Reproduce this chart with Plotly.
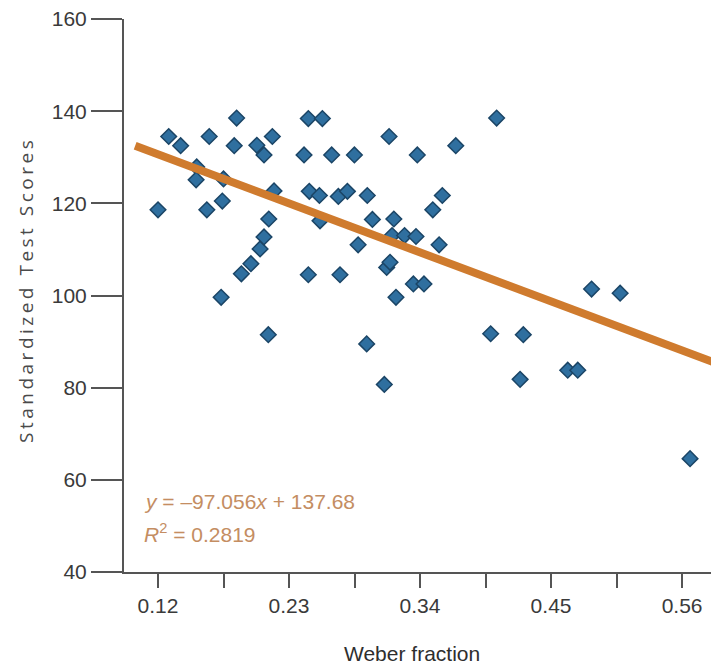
import plotly.graph_objects as go

# Data
weber = [0.120, 0.129, 0.139, 0.1525, 0.152, 0.161, 0.163, 0.174, 0.175, 0.173,
         0.184, 0.186, 0.190, 0.198, 0.203, 0.2057, 0.209, 0.209, 0.2126, 0.213,
         0.216, 0.2174, 0.2426, 0.2462, 0.247, 0.2462, 0.2555, 0.256, 0.258, 0.2658,
         0.2714, 0.2728, 0.279, 0.2849, 0.288, 0.2952, 0.2957, 0.300, 0.310, 0.312,
         0.3148, 0.314, 0.318, 0.3165, 0.3198, 0.327, 0.3344, 0.3366, 0.3377, 0.3433,
         0.3507, 0.356, 0.3587, 0.370, 0.3993, 0.4043, 0.424, 0.4267, 0.464, 0.4724,
         0.484, 0.508, 0.5667]
scores = [118.6, 134.5, 132.5, 127.9, 125.1, 118.6, 134.5, 120.5, 125.3, 99.6,
          132.5, 138.5, 104.7, 106.9, 132.6, 110.1, 130.5, 112.7, 91.5, 116.6,
          134.5, 122.7, 130.5, 138.4, 122.6, 104.5, 121.7, 116.2, 138.4, 130.5,
          121.5, 104.5, 122.6, 130.5, 111.0, 89.5, 121.7, 116.5, 80.7, 106.1,
          107.2, 134.5, 116.6, 113.0, 99.6, 113.0, 102.5, 112.8, 130.5, 102.5,
          118.6, 111.0, 121.7, 132.5, 91.7, 138.5, 81.8, 91.5, 83.8, 83.8,
          101.4, 100.5, 64.6]

trend_x = [0.1008, 0.600]
trend_y = [132.5, 84.2]

x_tickvals = [0.12, 0.23, 0.34, 0.45, 0.56]
x_ticktext = ["0.12", "0.23", "0.34", "0.45", "0.56"]
x_minor_tickvals = [0.175, 0.285, 0.395, 0.505]
y_tickvals = [40, 60, 80, 100, 120, 140, 160]

eq_line1 = "<i>y</i> = \u201397.056<i>x</i> + 137.68"
eq_line2 = "<i>R</i><sup>2</sup> = 0.2819"

fig = go.Figure()
fig.add_trace(go.Scatter(
    x=weber, y=scores, mode="markers",
    marker=dict(symbol="diamond", size=12, color="#2f6f9f",
                line=dict(color="#1b4566", width=1.5)),
    showlegend=False, hoverinfo="x+y"))
fig.add_trace(go.Scatter(
    x=trend_x, y=trend_y, mode="lines",
    line=dict(color="#cf7b2e", width=8),
    showlegend=False, hoverinfo="skip"))

tick_font = dict(family="Liberation Sans, Arial, sans-serif", size=21, color="#3a3a3a")

# page body has an 8px margin, so the figure is sized to fit the window
fig.update_layout(
    width=711, height=662,
    margin=dict(l=116, r=0, t=11, b=98, autoexpand=False),
    paper_bgcolor="white", plot_bgcolor="white",
    xaxis=dict(range=[0.09145, 0.591], tickvals=x_tickvals, ticktext=x_ticktext,
               showgrid=False, zeroline=False, showline=True, linecolor="#555",
               linewidth=2, ticks="outside", ticklen=14, tickwidth=2,
               tickcolor="#555", tickfont=tick_font, ticklabeloverflow="allow",
               minor=dict(tickvals=x_minor_tickvals, ticks="outside", ticklen=14,
                          tickwidth=2, tickcolor="#555", showgrid=False)),
    yaxis=dict(range=[40, 160], tickvals=y_tickvals, showgrid=False,
               zeroline=False, showline=True, linecolor="#555", linewidth=2,
               ticks="outside", ticklen=31, tickwidth=2, tickcolor="#555",
               tickfont=tick_font, ticklabeloverflow="allow"),
)

fig.add_annotation(xref="paper", yref="paper", x=0.484, y=0, yshift=-81,
                   xanchor="center", yanchor="middle", showarrow=False,
                   text="Weber fraction",
                   font=dict(family="Liberation Sans, Arial, sans-serif", size=21, color="#2e2e2e"))
fig.add_annotation(xref="paper", yref="paper", x=0, y=0.51, xshift=-98,
                   xanchor="center", yanchor="middle", showarrow=False, textangle=-90,
                   text='<span style="letter-spacing:3.5px">Standardized Test Scores</span>',
                   font=dict(family="Open Sans, sans-serif", size=19, color="#4a4a4a"))
fig.add_annotation(x=0.1066, y=55.2, xanchor="left", yanchor="middle", showarrow=False,
                   text=eq_line1,
                   font=dict(family="Liberation Sans, Arial, sans-serif", size=21, color="#c48d62"))
fig.add_annotation(x=0.1066, y=48.4, xanchor="left", yanchor="middle", showarrow=False,
                   text=eq_line2,
                   font=dict(family="Liberation Sans, Arial, sans-serif", size=21, color="#c48d62"))

fig.write_html("out.html")
